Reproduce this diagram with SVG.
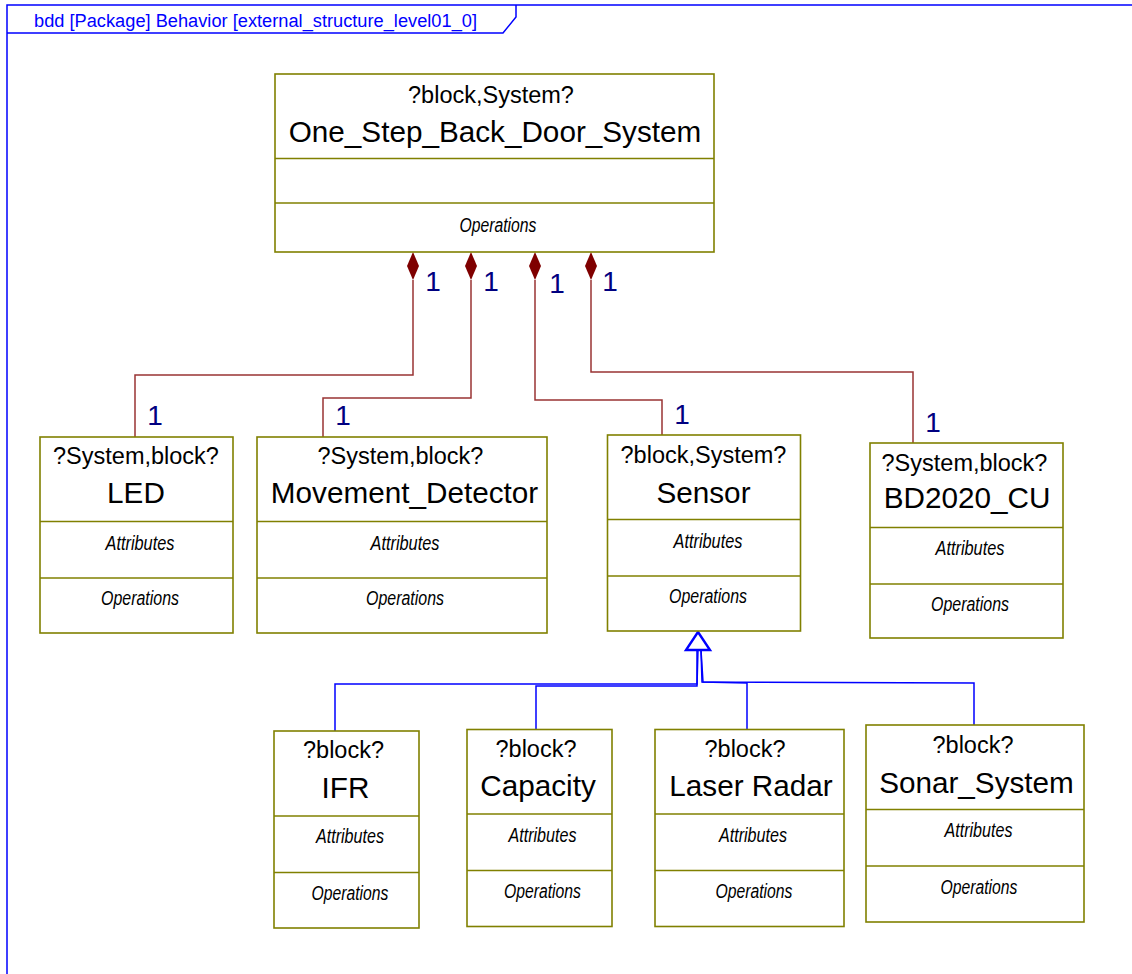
<svg xmlns="http://www.w3.org/2000/svg" width="1132" height="974" viewBox="0 0 1132 974">
  <style>
    .box { fill: #ffffff; stroke: #808000; stroke-width: 1.6; }
    .div { stroke: #808000; stroke-width: 1.6; }
    .st { font-family: "Liberation Sans", Arial, sans-serif; font-size: 23.5px; fill: #000; text-anchor: middle; }
    .nm { font-family: "Liberation Sans", Arial, sans-serif; font-size: 29.7px; fill: #000; text-anchor: middle; }
    .cp { font-family: "Liberation Sans", Arial, sans-serif; font-size: 20px; font-style: italic; fill: #000; text-anchor: middle; }
    .mult { font-family: "Liberation Sans", Arial, sans-serif; font-size: 28px; fill: #000080; text-anchor: middle; }
    .comp { fill: none; stroke: #993333; stroke-width: 1.5; }
    .gen { fill: none; stroke: #0000ff; stroke-width: 1.5; }
    .frame { fill: none; stroke: #0000ff; stroke-width: 1.5; }
  </style>
  <defs>
    <path id="diamond" d="M0,0 L6,14 L0,28 L-6,14 Z" fill="#7f0000"/>
  </defs>
  <rect width="1132" height="974" fill="#ffffff"/>

  <!-- diagram frame and heading tab -->
  <g id="frame">
    <path class="frame" d="M7,974 L7,5 L1132,5"/>
    <path class="frame" d="M7,33 L503,33 L516,17 L516,5"/>
    <text x="34" y="27" font-family="Liberation Sans, Arial, sans-serif" font-size="18" fill="#0000ff" textLength="443" lengthAdjust="spacingAndGlyphs">bdd [Package] Behavior [external_structure_level01_0]</text>
  </g>

  <!-- composition and generalization connectors -->
  <g id="connectors">
    <path class="comp" d="M413,280 L413,375 L135,375 L135,437"/>
    <path class="comp" d="M471,280 L471,398 L323,398 L323,437"/>
    <path class="comp" d="M535,280 L535,400 L662,400 L662,435"/>
    <path class="comp" d="M591,280 L591,372 L913,372 L913,443"/>
    <use href="#diamond" x="413" y="252"/>
    <use href="#diamond" x="471" y="252"/>
    <use href="#diamond" x="535" y="252"/>
    <use href="#diamond" x="591" y="252"/>
    <text class="mult" x="433" y="291">1</text>
    <text class="mult" x="491" y="291">1</text>
    <text class="mult" x="557" y="293">1</text>
    <text class="mult" x="610" y="291">1</text>
    <text class="mult" x="155" y="425">1</text>
    <text class="mult" x="343" y="425">1</text>
    <text class="mult" x="682" y="424">1</text>
    <text class="mult" x="933" y="432">1</text>

    <path class="gen" d="M697,650 L697,684 L335,684 L335,731"/>
    <path class="gen" d="M698,650 L697,686 L536,686 L536,729"/>
    <path class="gen" d="M701,650 L702,682 L747,683 L747,729"/>
    <path class="gen" d="M701,650 L703,682 L974,683 L974,725"/>
    <path d="M698,632 L710,650 L686,650 Z" fill="#ffffff" stroke="#0000ff" stroke-width="2.4"/>
  </g>

  <!-- system block -->
  <g id="One_Step_Back_Door_System">
    <rect class="box" x="275" y="74" width="439" height="178"/>
    <line class="div" x1="275" y1="158.5" x2="714" y2="158.5"/>
    <line class="div" x1="275" y1="203" x2="714" y2="203"/>
    <text class="st" x="491" y="103">?block,System?</text>
    <text class="nm" x="495" y="142" font-size="32">One_Step_Back_Door_System</text>
    <text class="cp" x="498" y="232" textLength="77" lengthAdjust="spacingAndGlyphs">Operations</text>
  </g>

  <g id="LED">
    <rect class="box" x="40" y="437" width="193" height="196"/>
    <line class="div" x1="40" y1="521.5" x2="233" y2="521.5"/>
    <line class="div" x1="40" y1="578" x2="233" y2="578"/>
    <text class="st" x="136" y="464">?System,block?</text>
    <text class="nm" x="136" y="503">LED</text>
    <text class="cp" x="140" y="550" textLength="69" lengthAdjust="spacingAndGlyphs">Attributes</text>
    <text class="cp" x="140" y="605" textLength="78" lengthAdjust="spacingAndGlyphs">Operations</text>
  </g>

  <g id="Movement_Detector">
    <rect class="box" x="257" y="437" width="290" height="196"/>
    <line class="div" x1="257" y1="521.5" x2="547" y2="521.5"/>
    <line class="div" x1="257" y1="578" x2="547" y2="578"/>
    <text class="st" x="400.5" y="464">?System,block?</text>
    <text class="nm" x="404.5" y="503">Movement_Detector</text>
    <text class="cp" x="405" y="550" textLength="69" lengthAdjust="spacingAndGlyphs">Attributes</text>
    <text class="cp" x="405" y="605" textLength="78" lengthAdjust="spacingAndGlyphs">Operations</text>
  </g>

  <g id="Sensor">
    <rect class="box" x="607.5" y="435" width="193" height="196"/>
    <line class="div" x1="607.5" y1="519.5" x2="800.5" y2="519.5"/>
    <line class="div" x1="607.5" y1="576" x2="800.5" y2="576"/>
    <text class="st" x="703.5" y="463">?block,System?</text>
    <text class="nm" x="703.5" y="503">Sensor</text>
    <text class="cp" x="708" y="548" textLength="69" lengthAdjust="spacingAndGlyphs">Attributes</text>
    <text class="cp" x="708" y="603" textLength="78" lengthAdjust="spacingAndGlyphs">Operations</text>
  </g>

  <g id="BD2020_CU">
    <rect class="box" x="870" y="443" width="193" height="195"/>
    <line class="div" x1="870" y1="527.5" x2="1063" y2="527.5"/>
    <line class="div" x1="870" y1="584" x2="1063" y2="584"/>
    <text class="st" x="964.5" y="471">?System,block?</text>
    <text class="nm" x="967" y="508">BD2020_CU</text>
    <text class="cp" x="970" y="555" textLength="69" lengthAdjust="spacingAndGlyphs">Attributes</text>
    <text class="cp" x="970" y="611" textLength="78" lengthAdjust="spacingAndGlyphs">Operations</text>
  </g>

  <!-- sensor variants -->
  <g id="IFR">
    <rect class="box" x="274" y="731" width="145" height="197"/>
    <line class="div" x1="274" y1="816" x2="419" y2="816"/>
    <line class="div" x1="274" y1="872.5" x2="419" y2="872.5"/>
    <text class="st" x="343.5" y="758">?block?</text>
    <text class="nm" x="345.5" y="798">IFR</text>
    <text class="cp" x="350" y="843" textLength="68" lengthAdjust="spacingAndGlyphs">Attributes</text>
    <text class="cp" x="350" y="900" textLength="77" lengthAdjust="spacingAndGlyphs">Operations</text>
  </g>

  <g id="Capacity">
    <rect class="box" x="467" y="729.5" width="145" height="197"/>
    <line class="div" x1="467" y1="814" x2="612" y2="814"/>
    <line class="div" x1="467" y1="870.5" x2="612" y2="870.5"/>
    <text class="st" x="536" y="756.5">?block?</text>
    <text class="nm" x="538" y="796">Capacity</text>
    <text class="cp" x="542.5" y="841.5" textLength="68" lengthAdjust="spacingAndGlyphs">Attributes</text>
    <text class="cp" x="542.5" y="898" textLength="77" lengthAdjust="spacingAndGlyphs">Operations</text>
  </g>

  <g id="Laser_Radar">
    <rect class="box" x="655" y="729.5" width="189" height="197"/>
    <line class="div" x1="655" y1="814" x2="844" y2="814"/>
    <line class="div" x1="655" y1="870.5" x2="844" y2="870.5"/>
    <text class="st" x="745" y="756.5">?block?</text>
    <text class="nm" x="751" y="796">Laser Radar</text>
    <text class="cp" x="753" y="841.5" textLength="68" lengthAdjust="spacingAndGlyphs">Attributes</text>
    <text class="cp" x="754" y="898" textLength="77" lengthAdjust="spacingAndGlyphs">Operations</text>
  </g>

  <g id="Sonar_System">
    <rect class="box" x="866" y="725" width="218" height="197"/>
    <line class="div" x1="866" y1="809.5" x2="1084" y2="809.5"/>
    <line class="div" x1="866" y1="866" x2="1084" y2="866"/>
    <text class="st" x="973" y="753">?block?</text>
    <text class="nm" x="976.5" y="792.5">Sonar_System</text>
    <text class="cp" x="978.5" y="837" textLength="68" lengthAdjust="spacingAndGlyphs">Attributes</text>
    <text class="cp" x="979" y="893.5" textLength="77" lengthAdjust="spacingAndGlyphs">Operations</text>
  </g>
</svg>
